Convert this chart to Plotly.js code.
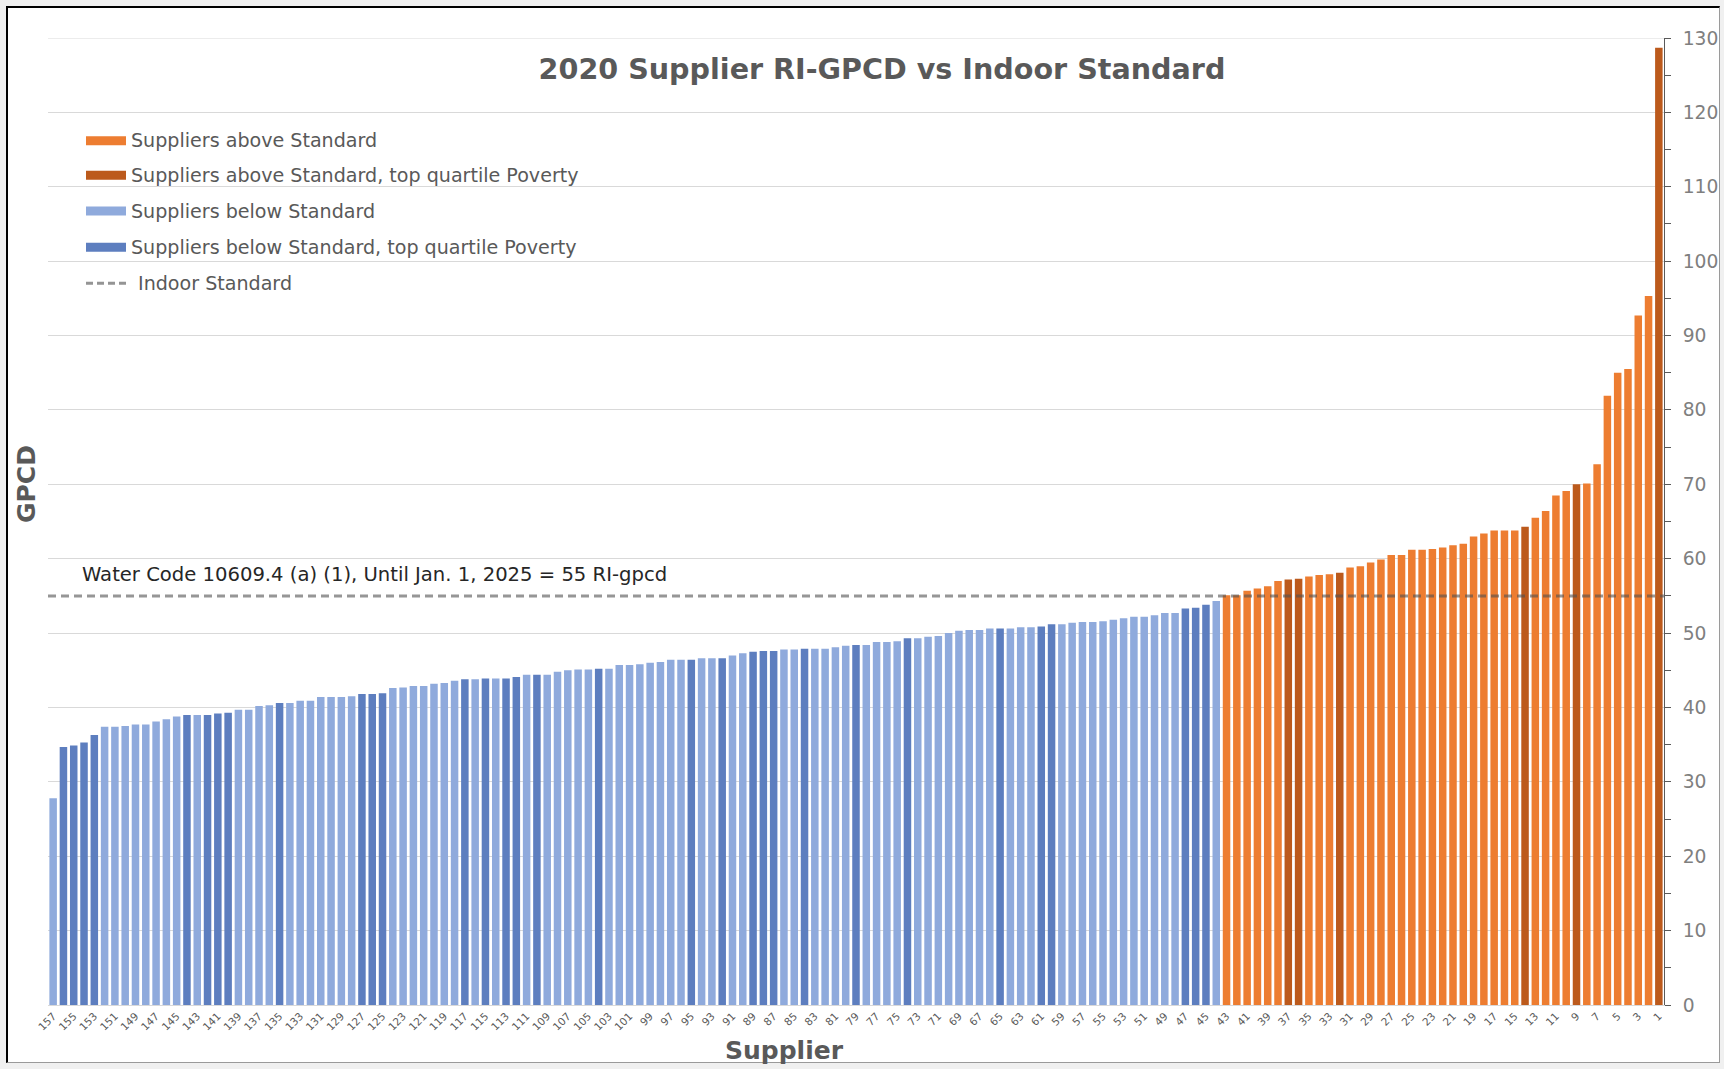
<!DOCTYPE html>
<html>
<head>
<meta charset="utf-8">
<script src="https://cdn.plot.ly/plotly-3.0.1.min.js"></script>
<style>
html,body{margin:0;padding:0;background:#f0f0f0;}
#frame{position:absolute;left:6px;top:6px;width:1714px;height:1057px;background:#fff;border-left:2px solid #000;border-top:2px solid #000;border-right:1px solid #9a9a9a;border-bottom:1px solid #9a9a9a;box-sizing:border-box;}
#chart{position:absolute;left:0;top:0;width:1724px;height:1069px;}
</style>
</head>
<body>
<div id="frame"></div>
<div id="chart"></div>
<script>
// ---- data ----
const supplierIds = [157,156,155,154,153,152,151,150,149,148,147,146,145,144,143,142,141,140,139,138,
  137,136,135,134,133,132,131,130,129,128,127,126,125,124,123,122,121,120,119,118,
  117,116,115,114,113,112,111,110,109,108,107,106,105,104,103,102,101,100,99,98,
  97,96,95,94,93,92,91,90,89,88,87,86,85,84,83,82,81,80,79,78,
  77,76,75,74,73,72,71,70,69,68,67,66,65,64,63,62,61,60,59,58,
  57,56,55,54,53,52,51,50,49,48,47,46,45,44,43,42,41,40,39,38,
  37,36,35,34,33,32,31,30,29,28,27,26,25,24,23,22,21,20,19,18,
  17,16,15,14,13,12,11,10,9,8,7,6,5,4,3,2,1];

const gpcd = [27.8,34.7,34.9,35.3,36.3,37.4,37.4,37.5,37.7,37.7,
  38.1,38.4,38.8,39.0,39.0,39.0,39.2,39.3,39.7,39.7,
  40.2,40.3,40.6,40.6,40.9,40.9,41.4,41.4,41.4,41.5,
  41.8,41.8,41.9,42.6,42.7,42.9,42.9,43.2,43.3,43.6,
  43.8,43.8,43.9,43.9,43.9,44.1,44.4,44.4,44.4,44.8,
  45.0,45.1,45.1,45.2,45.2,45.7,45.7,45.8,46.0,46.1,
  46.4,46.4,46.4,46.6,46.6,46.6,47.0,47.3,47.5,47.6,
  47.6,47.8,47.8,47.9,47.9,47.9,48.1,48.3,48.4,48.4,
  48.8,48.8,48.9,49.3,49.3,49.5,49.6,50.0,50.3,50.4,
  50.4,50.6,50.6,50.6,50.8,50.8,50.9,51.2,51.2,51.4,
  51.5,51.5,51.6,51.8,52.0,52.2,52.2,52.4,52.7,52.7,
  53.3,53.4,53.8,54.3,55.1,55.1,55.7,56.0,56.3,57.0,
  57.2,57.3,57.6,57.8,57.9,58.1,58.8,59.0,59.5,59.9,
  60.5,60.5,61.2,61.2,61.3,61.5,61.8,62.0,63.0,63.4,
  63.8,63.8,63.8,64.3,65.5,66.4,68.5,69.1,70.0,70.1,
  72.7,81.9,85.0,85.5,92.7,95.3,128.7];

// suppliers in the top quartile of poverty
const povertyTopQuartile = [156,155,154,153,144,142,141,140,135,127,126,125,117,115,113,112,110,104,
  95,92,89,88,87,84,79,74,65,61,60,47,46,45,37,36,32,14,9,1];

const STANDARD = 55;   // Indoor Standard, RI-gpcd
const yTickValues = [0,10,20,30,40,50,60,70,80,90,100,110,120,130];

const seriesNames = {
  above: 'Suppliers above Standard',
  abovePov: 'Suppliers above Standard, top quartile Poverty',
  below: 'Suppliers below Standard',
  belowPov: 'Suppliers below Standard, top quartile Poverty',
  standard: 'Indoor Standard'
};
const standardNote = 'Water Code 10609.4 (a) (1), Until Jan. 1, 2025 = 55 RI-gpcd';

// ---- styles ----
const COLORS = {
  above: '#ED7D31',
  abovePov: '#BC5A1C',
  below: '#8FAADC',
  belowPov: '#5D7EBF'
};

// ---- build traces ----
const labels = supplierIds.map(String);
function subset(test) {
  const xs = [], ys = [];
  supplierIds.forEach((id, i) => {
    if (test(id, gpcd[i])) { xs.push(String(id)); ys.push(gpcd[i]); }
  });
  return {xs, ys};
}
const isPov = id => povertyTopQuartile.includes(id);
const groups = {
  above: subset((id, v) => v > STANDARD && !isPov(id)),
  abovePov: subset((id, v) => v > STANDARD && isPov(id)),
  below: subset((id, v) => v <= STANDARD && !isPov(id)),
  belowPov: subset((id, v) => v <= STANDARD && isPov(id))
};

const traces = Object.keys(groups).map(k => ({
  type: 'bar', name: seriesNames[k],
  x: groups[k].xs, y: groups[k].ys,
  marker: {color: COLORS[k], line: {width: 0}}, hoverinfo: 'x+y'
}));

// ---- layout geometry (pixels) ----
const W = 1724, H = 1069;
const M = {l: 48, r: 60, t: 38, b: 64};
const PW = W - M.l - M.r, PH = H - M.t - M.b;
const px = x => (x - M.l) / PW;          // page px -> paper x
const py = y => (H - M.b - y) / PH;       // page px -> paper y

const FONT = 'DejaVu Sans, Verdana, sans-serif';
const TXT = '#595959';

const legendRows = [
  {key: 'above', y: 140.7},
  {key: 'abovePov', y: 175.3},
  {key: 'below', y: 211},
  {key: 'belowPov', y: 247.3},
  {key: 'standard', y: 283.3}
];
const shapes = [];
const annotations = [];
legendRows.forEach(r => {
  if (r.key === 'standard') {
    shapes.push({type: 'line', xref: 'paper', yref: 'paper', x0: px(86), x1: px(127), y0: py(r.y), y1: py(r.y),
      line: {color: 'rgba(90,90,90,0.65)', width: 3, dash: '7px,4px'}});
    annotations.push({xref: 'paper', yref: 'paper', x: px(136), y: py(r.y), xanchor: 'left', yanchor: 'middle',
      text: seriesNames[r.key], showarrow: false, font: {family: FONT, size: 19.1, color: TXT}});
  } else {
    shapes.push({type: 'rect', xref: 'paper', yref: 'paper', x0: px(86), x1: px(126), y0: py(r.y - 4.5), y1: py(r.y + 4.5),
      fillcolor: COLORS[r.key], line: {width: 0}});
    annotations.push({xref: 'paper', yref: 'paper', x: px(129), y: py(r.y), xanchor: 'left', yanchor: 'middle',
      text: seriesNames[r.key], showarrow: false, font: {family: FONT, size: 19.1, color: TXT}});
  }
});

// top gridline at 130
shapes.push({type: 'line', xref: 'paper', yref: 'y', x0: 0, x1: 1, y0: 130, y1: 130, layer: 'below',
  line: {color: '#d9d9d9', width: 1}});

// Indoor standard dashed line
shapes.push({type: 'line', xref: 'paper', yref: 'y', x0: 0, x1: 1, y0: STANDARD, y1: STANDARD, layer: 'above',
  line: {color: 'rgba(80,80,80,0.6)', width: 3, dash: '8px,5px'}});

annotations.push({xref: 'paper', yref: 'y', x: px(80), y: STANDARD, xanchor: 'left', yanchor: 'bottom', yshift: 8,
  text: standardNote, showarrow: false, font: {family: FONT, size: 19.6, color: '#262626'}});

// axis titles
annotations.push({xref: 'paper', yref: 'paper', x: px(27), y: py(484), xanchor: 'center', yanchor: 'middle',
  textangle: -90, text: '<b>GPCD</b>', showarrow: false, font: {family: FONT, size: 25, color: TXT}});
annotations.push({xref: 'paper', yref: 'paper', x: px(784), y: py(1050), xanchor: 'center', yanchor: 'middle',
  text: '<b>Supplier</b>', showarrow: false, font: {family: FONT, size: 25, color: TXT}});

const layout = {
  width: W, height: H,
  margin: M,
  paper_bgcolor: 'rgba(0,0,0,0)', plot_bgcolor: 'rgba(0,0,0,0)',
  font: {family: FONT, color: TXT},
  title: {text: '<b>2020 Supplier RI-GPCD vs Indoor Standard</b>', font: {family: FONT, size: 28.6, color: TXT},
    xref: 'container', yref: 'container', x: 882 / W, y: 1 - 69 / H, xanchor: 'center', yanchor: 'middle'},
  showlegend: false,
  barmode: 'overlay', bargap: 0.27,
  xaxis: {type: 'category', categoryorder: 'array', categoryarray: labels,
    tickmode: 'array', tickvals: labels.filter((l, i) => i % 2 === 0),
    tickangle: -45, tickfont: {family: FONT, size: 10.5, color: TXT},
    showgrid: false, showline: true, linecolor: '#d9d9d9', linewidth: 1, ticks: '',
    range: [-0.5, supplierIds.length - 0.5], fixedrange: true},
  yaxis: {side: 'right', range: [0, 130], tickmode: 'array', tickvals: yTickValues,
    showgrid: true, gridcolor: '#d9d9d9', gridwidth: 1, zeroline: false,
    showline: true, linecolor: '#595959', linewidth: 1,
    ticks: 'outside', ticklen: 6, tickcolor: '#595959', tickwidth: 1,
    minor: {dtick: 5, tick0: 0, ticks: 'outside', ticklen: 6, tickcolor: '#595959', showgrid: false},
    tickfont: {family: FONT, size: 18.7, color: '#7f7f7f'}, ticklabelstandoff: 8},
  shapes: shapes,
  annotations: annotations
};

Plotly.newPlot('chart', traces, layout, {displayModeBar: false, staticPlot: true});
</script>
</body>
</html>
